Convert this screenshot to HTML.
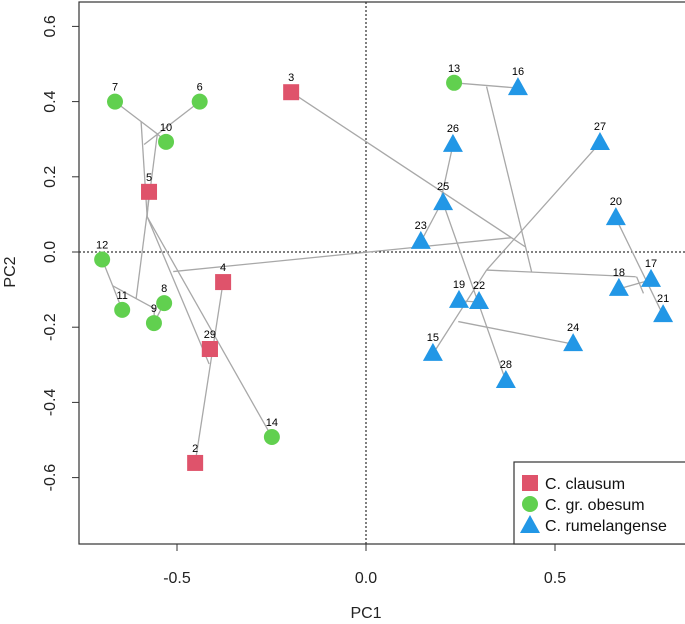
<!DOCTYPE html>
<html><head><meta charset="utf-8"><style>
body{margin:0;background:#fff;}
svg{display:block;font-family:"Liberation Sans",Arial,sans-serif;}
</style></head><body>
<svg id="chart" width="685" height="624">
</svg>
<script>
const labels=["1","2","3","4","5","6","7","8","9","10","11","12","13","14","15","16","17","18","19","20","21","22","23","24","25","26","27","28","29"];
const groups=[0,0,0,0,0,1,1,1,1,1,1,1,1,1,2,2,2,2,2,2,2,2,2,2,2,2,2,2,0];
const pc1=[-0.413,-0.452,-0.198,-0.378,-0.574,-0.44,-0.664,-0.534,-0.561,-0.529,-0.645,-0.698,0.233,-0.249,0.177,0.402,0.754,0.669,0.246,0.661,0.786,0.299,0.145,0.548,0.204,0.23,0.619,0.37,-0.413];
const pc2=[-0.258,-0.561,0.425,-0.08,0.16,0.40,0.40,-0.136,-0.189,0.293,-0.154,-0.02,0.45,-0.492,-0.271,0.436,-0.074,-0.098,-0.13,0.09,-0.168,-0.133,0.027,-0.245,0.13,0.285,0.29,-0.343,-0.258];
// internal tree nodes
const nodeX={n1:-0.552,n2:-0.587,a:-0.595,b:-0.579,c:-0.415,d:-0.510,e:-0.608,f:-0.670,g:-0.560,h:0.319,i:0.438,j:0.421,k:0.385,m:0.319,o:0.716,q:0.244,r:0.194,s:0.734};
const nodeY={n1:0.314,n2:0.286,a:0.347,b:0.094,c:-0.298,d:-0.052,e:-0.123,f:-0.090,g:-0.150,h:0.44,i:-0.052,j:0.014,k:0.038,m:-0.048,o:-0.066,q:-0.185,r:0.12,s:-0.110};
const edges=[["7","n1"],["n1","10"],["6","n2"],["a","b"],["b","5"],["b","c"],["b","14"],["n1","e"],["12","f"],["f","11"],["f","g"],["g","9"],["8","9"],["2","4"],["d","k"],["13","16"],["h","i"],["3","j"],["27","m"],["m","o"],["m","15"],["19","22"],["q","24"],["25","28"],["26","r"],["r","23"],["r","25"],["o","s"],["20","21"],["18","17"]];
const xTicks=[-0.5,0,0.5];
const yTicks=[-0.6,-0.4,-0.2,0,0.2,0.4,0.6];
const legendNames=["C. clausum","C. gr. obesum","C. rumelangense"];
const colors=["#DF536B","#61D04F","#2297E6"];

const X=v=>366+v*378, Y=v=>252-v*376;
const svg=document.getElementById('chart');
const NS="http://www.w3.org/2000/svg";
function mk(t,a,p){const e=document.createElementNS(NS,t);for(const k in a)e.setAttribute(k,a[k]);(p||svg).appendChild(e);return e;}
function pt(id){const i=labels.indexOf(id);if(i>=0)return [X(pc1[i]),Y(pc2[i])];return [X(nodeX[id]),Y(nodeY[id])];}

// ref lines
let l=mk('line',{x1:79,x2:685,y1:Y(0),y2:Y(0),stroke:'#000','stroke-dasharray':'2,2','stroke-width':1});


l=mk('line',{x1:X(0),x2:X(0),y1:2,y2:544,stroke:'#000','stroke-dasharray':'2,2','stroke-width':1});



// edges
edges.forEach(([p,q])=>{const A=pt(p),B=pt(q);
 const e=mk('line',{x1:A[0],y1:A[1],x2:B[0],y2:B[1],stroke:'#a8a8a8','stroke-width':1.3});
 
 });

function marker(g,x,y,name){let e;
 if(g===0)e=mk('rect',{x:x-8,y:y-8,width:16,height:16,fill:colors[0]});
 else if(g===1)e=mk('circle',{cx:x,cy:y,r:8,fill:colors[1]});
 else e=mk('polygon',{points:`${x},${y-11} ${x-10},${y+7} ${x+10},${y+7}`,fill:colors[2]});
 
 }
labels.forEach((lb,i)=>{const x=X(pc1[i]),y=Y(pc2[i]);
 marker(groups[i],x,y,'point-'+lb);
 if(lb==="1")return;
 const t=mk('text',{x:x,y:y-(groups[i]===2?13:11),'font-size':11,'text-anchor':'middle',fill:'#000'});t.textContent=lb;
 
 });

// box
const bx=mk('rect',{x:79,y:2,width:610,height:542,fill:'none',stroke:'#333','stroke-width':1.2});


xTicks.forEach(v=>{const tk=mk('line',{x1:X(v),x2:X(v),y1:544,y2:551,stroke:'#333'});
 
 
 const t=mk('text',{x:X(v),y:583,'font-size':16,'text-anchor':'middle',fill:'#222'});t.textContent=v.toFixed(1);
 
 });
yTicks.forEach(v=>{const tk=mk('line',{x1:72,x2:79,y1:Y(v),y2:Y(v),stroke:'#333'});
 
 
 const t=mk('text',{x:0,y:0,'font-size':16,'text-anchor':'middle',fill:'#222',transform:`translate(55,${Y(v)}) rotate(-90)`});t.textContent=v.toFixed(1);
 
 });
let t=mk('text',{x:X(0),y:618,'font-size':16,'text-anchor':'middle',fill:'#222'});t.textContent='PC1';


t=mk('text',{x:0,y:0,'font-size':16,'text-anchor':'middle',fill:'#222',transform:'translate(15,272) rotate(-90)'});t.textContent='PC2';



// legend
const lg=mk('rect',{x:514,y:462,width:175,height:82,fill:'#fff',stroke:'#333','stroke-width':1.2});


legendNames.forEach((n,i)=>{const y=483+i*21;
 marker(i,530,y+(i===2?1:0),'legend-marker-'+i);
 const tt=mk('text',{x:545,y:y+6,'font-size':16,fill:'#111'});tt.textContent=n;
 
 });
</script>
</body></html>
